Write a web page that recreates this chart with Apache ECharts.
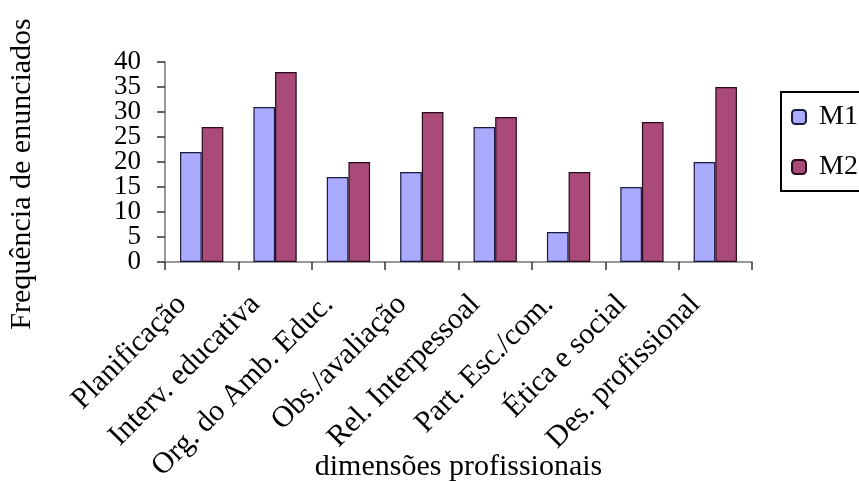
<!DOCTYPE html>
<html>
<head>
<meta charset="utf-8">
<script src="https://cdn.jsdelivr.net/npm/echarts@6/dist/echarts.min.js"></script>
<style>
html,body{margin:0;padding:0;background:#fff;}
#chart{width:859px;height:482px;}
</style>
</head>
<body>
<div id="chart"></div>
<script>
var categories = ['Planificação','Interv. educativa','Org. do Amb. Educ.','Obs./avaliação','Rel. Interpessoal','Part. Esc./com.','Ética e social','Des. profissional'];
var m1 = [22, 31, 17, 18, 27, 6, 15, 20];
var m2 = [27, 38, 20, 30, 29, 18, 28, 35];
var yTickValues = [0, 5, 10, 15, 20, 25, 30, 35, 40];
var seriesNames = ['M1', 'M2'];

var font = 'Liberation Serif, Times New Roman, serif';
var evenTicks = yTickValues.filter(function (v, i) { return i % 2 === 0; });
var oddTicks = yTickValues.filter(function (v, i) { return i % 2 === 1; });
var yMin = yTickValues[0], yMax = yTickValues[yTickValues.length - 1], yStep = yTickValues[1] - yTickValues[0];

function yAxisBase(labels, main) {
  return {
    type: 'value', position: 'left', offset: 0,
    min: yMin, max: yMax, interval: yStep,
    splitLine: {show: false},
    axisLine: {show: main, lineStyle: {color: '#777', width: 1.5}},
    axisTick: {show: main, customValues: yTickValues, length: 8, lineStyle: {color: '#333', width: 1.5}},
    axisLabel: {margin: 24, customValues: labels, showMinLabel: true, showMaxLabel: true,
      fontFamily: font, fontSize: 27, color: '#000'}
  };
}
var y0 = yAxisBase(evenTicks, true);
y0.name = 'Frequência de enunciados';
y0.nameLocation = 'middle';
y0.nameGap = 128;
y0.nameMoveOverlap = false;
y0.nameTextStyle = {fontFamily: font, fontSize: 30, color: '#000', padding: [0, 24, 0, 0]};
var y1 = yAxisBase(oddTicks, false);

var chart = echarts.init(document.getElementById('chart'));
chart.setOption({
  animation: false,
  backgroundColor: '#fff',
  grid: {left: 165, right: 107, top: 62, bottom: 220, containLabel: false, outerBoundsMode: 'none'},
  legend: {
    orient: 'vertical',
    left: 781, top: 92,
    itemWidth: 14, itemHeight: 14,
    itemGap: 22,
    padding: [11, 20, 10, 10],
    borderColor: '#000', borderWidth: 2,
    textStyle: {fontFamily: font, fontSize: 28, color: '#000', padding: [0, 0, 0, 8]},
    data: seriesNames
  },
  xAxis: {
    type: 'category',
    data: categories,
    name: 'dimensões profissionais',
    nameLocation: 'middle',
    nameGap: 190,
    nameMoveOverlap: false,
    nameTextStyle: {fontFamily: font, fontSize: 30, color: '#000', lineHeight: 30},
    axisLine: {lineStyle: {color: '#777', width: 1.5}},
    axisTick: {show: true, length: 8, lineStyle: {color: '#333', width: 1.5}},
    axisLabel: {rotate: 45, margin: 18, fontFamily: font, fontSize: 30, color: '#000', padding: [0, 28, 0, 0], interval: 0}
  },
  yAxis: [y0, y1],
  series: [
    {name: seriesNames[0], type: 'bar', data: m1, barGap: '0%', barCategoryGap: '41%', yAxisIndex: 0,
     itemStyle: {color: '#aaaaff', borderColor: '#1a1a40', borderWidth: 1.2}},
    {name: seriesNames[1], type: 'bar', data: m2, barGap: '0%', barCategoryGap: '41%', yAxisIndex: 0,
     itemStyle: {color: '#a94a78', borderColor: '#2a0a18', borderWidth: 1.2}}
  ]
});
</script>
</body>
</html>
